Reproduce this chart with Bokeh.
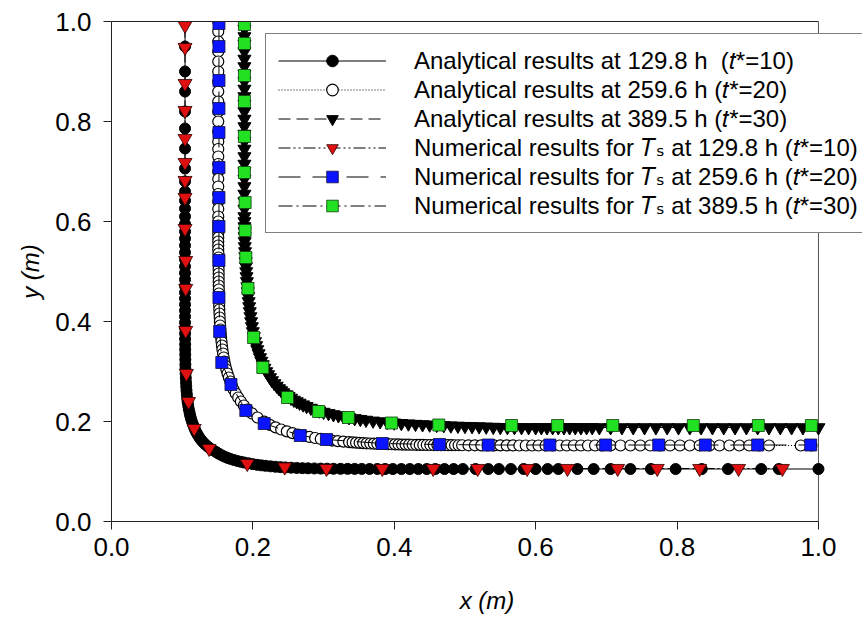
from bokeh.plotting import figure
from bokeh.models import (Range1d, FixedTicker, PrintfTickFormatter, Legend, LegendItem,
                          LinearAxis, Span)
from bokeh.embed import file_html
from bokeh.resources import INLINE

# ---------------- data ----------------
# Analytical results, t* = 10 (129.8 h)
a10_x = [0.104, 0.104, 0.104, 0.104, 0.104, 0.104, 0.104, 0.104, 0.104, 0.104,
         0.104, 0.104, 0.104, 0.104, 0.104, 0.104, 0.104, 0.104, 0.104, 0.104,
         0.104, 0.104, 0.104, 0.104, 0.104, 0.104, 0.104, 0.104, 0.104,
         0.1040, 0.1041, 0.1041, 0.1042, 0.1042, 0.1043, 0.1044, 0.1045, 0.1046, 0.1048,
         0.1051, 0.1054, 0.1057, 0.1061, 0.1066, 0.1071, 0.1077, 0.1085, 0.1093, 0.1104,
         0.1113, 0.1124, 0.1137, 0.1153, 0.1169, 0.1184, 0.1201, 0.1221, 0.1243, 0.1263,
         0.1287, 0.1313, 0.1344, 0.1370, 0.1397, 0.1425,
         0.146, 0.149, 0.152, 0.156, 0.160, 0.164, 0.168, 0.173, 0.178, 0.183,
         0.188, 0.194, 0.200, 0.206, 0.212, 0.218, 0.225, 0.232, 0.239, 0.246,
         0.254, 0.262, 0.270, 0.278, 0.287, 0.296, 0.305, 0.314, 0.324, 0.334,
         0.344, 0.354, 0.365, 0.376, 0.387,
         0.398, 0.410, 0.422, 0.434, 0.446, 0.458, 0.471, 0.484, 0.497,
         0.515, 0.533, 0.548, 0.565, 0.583, 0.600, 0.617, 0.632, 0.659, 0.682,
         0.706, 0.734, 0.763, 0.798, 0.835, 0.872, 0.919, 0.944, 1.000]
a10_y = [1.000, 0.950, 0.900, 0.860, 0.820, 0.786, 0.746, 0.706, 0.680, 0.660,
         0.642, 0.626, 0.610, 0.595, 0.580, 0.566, 0.552, 0.538, 0.524, 0.510,
         0.497, 0.484, 0.471, 0.458, 0.446, 0.434, 0.422, 0.410, 0.398,
         0.387, 0.376, 0.365, 0.354, 0.344, 0.334, 0.324, 0.314, 0.305, 0.296,
         0.287, 0.278, 0.270, 0.262, 0.254, 0.246, 0.239, 0.232, 0.225, 0.218,
         0.212, 0.206, 0.200, 0.194, 0.188, 0.183, 0.178, 0.173, 0.168, 0.164,
         0.160, 0.156, 0.152, 0.149, 0.146, 0.143,
         0.1407, 0.1380, 0.1354, 0.1323, 0.1297, 0.1273, 0.1253, 0.1231, 0.1211, 0.1194,
         0.1179, 0.1163, 0.1147, 0.1134, 0.1123, 0.1114, 0.1103, 0.1095, 0.1087, 0.1081,
         0.1076, 0.1071, 0.1067, 0.1064, 0.1061, 0.1058, 0.1056, 0.1055, 0.1054, 0.1053,
         0.1052, 0.1052, 0.1051, 0.1051, 0.1050,
         0.105, 0.105, 0.105, 0.105, 0.105, 0.105, 0.105, 0.105, 0.105,
         0.105, 0.105, 0.105, 0.105, 0.105, 0.105, 0.105, 0.105, 0.105, 0.105,
         0.105, 0.105, 0.105, 0.105, 0.105, 0.105, 0.105, 0.105, 0.105]

# Analytical results, t* = 20 (259.6 h)
a20_x = [0.151, 0.151, 0.151, 0.151, 0.151, 0.151, 0.151, 0.151, 0.151, 0.151,
         0.151, 0.151, 0.151, 0.151, 0.151, 0.151, 0.151, 0.151, 0.151, 0.151,
         0.151, 0.151, 0.151, 0.151, 0.151, 0.151, 0.151, 0.151, 0.151, 0.151,
         0.151,
         0.1513, 0.1514, 0.1514, 0.1515, 0.1515, 0.1516, 0.1516, 0.1516, 0.1517, 0.1518,
         0.1519, 0.1520, 0.1521, 0.1523, 0.1525, 0.1527, 0.1530, 0.1533, 0.1536, 0.1541,
         0.1546, 0.1550, 0.1556, 0.1562, 0.1569, 0.1578, 0.1587, 0.1597, 0.1609, 0.1625,
         0.1641, 0.1660, 0.1681, 0.1702, 0.1727, 0.1757, 0.1792, 0.1830, 0.1872, 0.1923,
         0.1988, 0.2065,
         0.216, 0.224, 0.232, 0.240, 0.248, 0.256, 0.264, 0.272, 0.280, 0.288,
         0.296, 0.304, 0.312, 0.320, 0.328, 0.336,
         0.341, 0.346, 0.351, 0.356, 0.361, 0.366, 0.371, 0.376, 0.381, 0.386,
         0.391, 0.396, 0.401, 0.406, 0.411, 0.416, 0.421, 0.426, 0.431, 0.436,
         0.441, 0.446, 0.451, 0.456, 0.461, 0.466, 0.471, 0.476, 0.481, 0.486,
         0.491, 0.496,
         0.505, 0.514, 0.523, 0.532, 0.541, 0.550, 0.559, 0.568, 0.577, 0.586,
         0.595, 0.604, 0.614, 0.624, 0.634, 0.644, 0.654, 0.664, 0.674, 0.684,
         0.694, 0.706, 0.720, 0.734, 0.748, 0.762, 0.776, 0.790, 0.804, 0.818,
         0.832, 0.846, 0.860, 0.874, 0.888, 0.902, 0.916, 0.930, 0.975, 0.990]
a20_y = [1.000, 0.980, 0.960, 0.940, 0.920, 0.900, 0.880, 0.860, 0.840, 0.820,
         0.800, 0.780, 0.760, 0.745, 0.730, 0.715, 0.700, 0.685, 0.670, 0.655,
         0.640, 0.625, 0.610, 0.600, 0.592, 0.584, 0.576, 0.568, 0.560, 0.552,
         0.544,
         0.536, 0.528, 0.520, 0.512, 0.504, 0.496, 0.488, 0.480, 0.472, 0.464,
         0.456, 0.448, 0.440, 0.432, 0.424, 0.416, 0.408, 0.400, 0.392, 0.384,
         0.376, 0.368, 0.360, 0.352, 0.344, 0.336, 0.328, 0.320, 0.312, 0.304,
         0.296, 0.288, 0.280, 0.272, 0.264, 0.256, 0.248, 0.240, 0.232, 0.224,
         0.216, 0.208,
         0.1998, 0.1933, 0.1882, 0.1840, 0.1802, 0.1767, 0.1737, 0.1712, 0.1691, 0.1670,
         0.1651, 0.1635, 0.1619, 0.1607, 0.1597, 0.1588,
         0.1582, 0.1577, 0.1572, 0.1568, 0.1564, 0.1560, 0.1557, 0.1555, 0.1552, 0.1550,
         0.1547, 0.1545, 0.1543, 0.1541, 0.1539, 0.1537, 0.1536, 0.1535, 0.1534, 0.1532,
         0.1531, 0.1530, 0.1530, 0.1529, 0.1528, 0.1528, 0.1527, 0.1526, 0.1526, 0.1525,
         0.1525, 0.1525,
         0.1524, 0.1524, 0.1523, 0.1523, 0.1522, 0.1522, 0.1521, 0.1521, 0.152, 0.152,
         0.152, 0.152, 0.152, 0.152, 0.152, 0.152, 0.152, 0.152, 0.152, 0.152,
         0.152, 0.152, 0.152, 0.152, 0.152, 0.152, 0.152, 0.152, 0.152, 0.152,
         0.152, 0.152, 0.152, 0.152, 0.152, 0.152, 0.152, 0.152, 0.152, 0.152]

# Analytical results, t* = 30 (389.5 h)
a30_x = [0.188, 0.188, 0.188, 0.188, 0.188, 0.188, 0.188, 0.188, 0.188, 0.188,
         0.188, 0.188, 0.188, 0.188, 0.188, 0.188, 0.188, 0.188, 0.188, 0.188,
         0.188, 0.188, 0.188, 0.188, 0.188, 0.188, 0.188,
         0.1880, 0.1881, 0.1882, 0.1883, 0.1884, 0.1885, 0.1889, 0.1893, 0.1898, 0.1902,
         0.1906, 0.1910, 0.1916, 0.1922, 0.1928, 0.1934, 0.1940, 0.1948, 0.1956, 0.1965,
         0.1975, 0.1986, 0.1999, 0.2013, 0.2030, 0.2046, 0.2062, 0.2081, 0.2101, 0.2120,
         0.2140, 0.2163, 0.2189, 0.2215, 0.2242, 0.2270, 0.2304, 0.2337, 0.2370, 0.2400,
         0.2430, 0.2470,
         0.2505,
         0.254, 0.258, 0.262, 0.266, 0.271, 0.276, 0.282, 0.288, 0.294, 0.300,
         0.307, 0.314, 0.321, 0.328, 0.336, 0.344, 0.352, 0.360, 0.370, 0.380,
         0.390, 0.400, 0.410, 0.420, 0.430, 0.440, 0.450, 0.460, 0.470, 0.480,
         0.490, 0.500, 0.510, 0.520, 0.530, 0.540, 0.550, 0.560, 0.570, 0.580,
         0.590, 0.600,
         0.608, 0.616, 0.624, 0.632, 0.640, 0.648, 0.656, 0.664, 0.672, 0.680,
         0.690, 0.706, 0.722, 0.738, 0.754, 0.770, 0.786, 0.802, 0.818, 0.834,
         0.850, 0.866, 0.882, 0.898, 0.914, 0.930, 0.946, 0.962, 0.978, 1.000]
a30_y = [1.000, 0.985, 0.970, 0.955, 0.940, 0.925, 0.910, 0.895, 0.880, 0.865,
         0.850, 0.835, 0.820, 0.805, 0.790, 0.775, 0.760, 0.745, 0.730, 0.715,
         0.700, 0.685, 0.670, 0.655, 0.640, 0.625, 0.610,
         0.600, 0.590, 0.580, 0.570, 0.560, 0.550, 0.540, 0.530, 0.520, 0.510,
         0.500, 0.490, 0.480, 0.470, 0.460, 0.450, 0.440, 0.430, 0.420, 0.410,
         0.400, 0.390, 0.380, 0.370, 0.360, 0.352, 0.344, 0.336, 0.328, 0.321,
         0.314, 0.307, 0.300, 0.294, 0.288, 0.282, 0.276, 0.271, 0.266, 0.262,
         0.258, 0.254,
         0.2505,
         0.2470, 0.2430, 0.2400, 0.2370, 0.2337, 0.2304, 0.2270, 0.2242, 0.2215, 0.2189,
         0.2163, 0.2140, 0.2120, 0.2101, 0.2081, 0.2062, 0.2046, 0.2030, 0.2013, 0.1999,
         0.1986, 0.1975, 0.1965, 0.1956, 0.1948, 0.1940, 0.1934, 0.1928, 0.1922, 0.1916,
         0.1910, 0.1906, 0.1902, 0.1898, 0.1893, 0.1889, 0.1885, 0.1884, 0.1883, 0.1882,
         0.1881, 0.1880,
         0.188, 0.188, 0.188, 0.188, 0.188, 0.188, 0.188, 0.188, 0.188, 0.188,
         0.188, 0.188, 0.188, 0.188, 0.188, 0.188, 0.188, 0.188, 0.188, 0.188,
         0.188, 0.188, 0.188, 0.188, 0.188, 0.188, 0.188, 0.188, 0.188, 0.188]

# Numerical results for T_S
n10_x = [0.104, 0.104, 0.104, 0.104, 0.104, 0.104, 0.104, 0.104, 0.104, 0.105,
         0.105, 0.105, 0.106, 0.109, 0.117, 0.138, 0.192, 0.245, 0.304, 0.383,
         0.455, 0.518, 0.588, 0.645, 0.716, 0.772, 0.832, 0.887, 0.949]
n10_y = [0.992, 0.948, 0.876, 0.822, 0.766, 0.718, 0.682, 0.648, 0.586, 0.522,
         0.466, 0.382, 0.296, 0.240, 0.186, 0.146, 0.116, 0.109, 0.106, 0.106,
         0.106, 0.106, 0.106, 0.106, 0.106, 0.106, 0.106, 0.106, 0.106]

n20_x = [0.152, 0.152, 0.152, 0.152, 0.152, 0.152, 0.152, 0.152, 0.152, 0.152,
         0.153, 0.156, 0.169, 0.190, 0.216, 0.267, 0.304, 0.383, 0.464, 0.533,
         0.620, 0.699, 0.774, 0.840, 0.914, 0.989]
n20_y = [0.996, 0.950, 0.882, 0.826, 0.778, 0.708, 0.648, 0.590, 0.522, 0.448,
         0.380, 0.318, 0.274, 0.222, 0.196, 0.172, 0.164, 0.156, 0.154, 0.153,
         0.153, 0.153, 0.153, 0.153, 0.153, 0.153]

n30_x = [0.188, 0.188, 0.188, 0.188, 0.188, 0.188, 0.189, 0.189, 0.190, 0.193,
         0.201, 0.214, 0.249, 0.293, 0.335, 0.396, 0.463, 0.566, 0.631, 0.709,
         0.823, 0.915, 0.990]
n30_y = [0.994, 0.956, 0.892, 0.840, 0.770, 0.698, 0.638, 0.582, 0.528, 0.466,
         0.368, 0.308, 0.248, 0.220, 0.208, 0.197, 0.193, 0.192, 0.192, 0.192,
         0.192, 0.192, 0.192]

axis_ticks = [0.0, 0.2, 0.4, 0.6, 0.8, 1.0]
axis_min, axis_max = 0.0, 1.0

labels = [
    "Analytical results at 129.8 h  (\U0001D461*=10)",
    "Analytical results at 259.6 h (\U0001D461*=20)",
    "Analytical results at 389.5 h (\U0001D461*=30)",
    "Numerical results for \U0001D447\u209B at 129.8 h (\U0001D461*=10)",
    "Numerical results for \U0001D447\u209B at 259.6 h (\U0001D461*=20)",
    "Numerical results for \U0001D447\u209B at 389.5 h (\U0001D461*=30)",
]

# ---------------- figure ----------------
# The frame runs a little past x = 1 so that the legend can overhang the axes box
# as in the reference; the visible box is drawn with bounded axes and a span.
p = figure(width=865, height=617, output_backend="svg", toolbar_location=None,
           x_range=Range1d(axis_min, 1.0623), y_range=Range1d(axis_min, axis_max),
           min_border_left=111, min_border_right=3,
           min_border_top=21, min_border_bottom=96)
p.xgrid.visible = False
p.ygrid.visible = False
p.outline_line_color = None
p.background_fill_color = "white"
p.border_fill_color = "white"

for ax in (p.xaxis[0], p.yaxis[0]):
    ax.ticker = FixedTicker(ticks=axis_ticks)
    ax.formatter = PrintfTickFormatter(format="%.1f")
    ax.bounds = (axis_min, axis_max)
    ax.major_tick_in = 0
    ax.major_tick_out = 8
    ax.minor_tick_in = 0
    ax.minor_tick_out = 0
    ax.axis_line_color = "#222222"
    ax.major_tick_line_color = "#222222"
    ax.major_label_text_font = "Liberation Sans"
    ax.major_label_text_font_size = "26px"
    ax.major_label_text_color = "black"
    ax.axis_label_text_font = "Liberation Sans"
    ax.axis_label_text_font_size = "24px"
    ax.axis_label_text_font_style = "italic"
    ax.axis_label_text_color = "black"

p.xaxis.axis_label = "x (m)"
p.yaxis.axis_label = "y (m)"
p.xaxis.major_label_standoff = 8
p.yaxis.major_label_standoff = 12
p.xaxis.axis_label_standoff = 28
p.yaxis.axis_label_standoff = 8

top_axis = LinearAxis(bounds=(axis_min, axis_max), ticker=FixedTicker(ticks=[]),
                      major_tick_out=0, major_tick_in=0, minor_tick_out=0, minor_tick_in=0,
                      major_label_text_font_size="0px", axis_line_color="#222222")
p.add_layout(top_axis, "above")
right_edge = Span(location=axis_max, dimension="height", line_color="#555555",
                  line_width=1, level="underlay")
p.add_layout(right_edge)

# analytical
l1 = p.line(a10_x, a10_y, line_color="black", line_width=1)
s1 = p.scatter(a10_x, a10_y, marker="circle", size=11, fill_color="black", line_color="black")
l2 = p.line(a20_x, a20_y, line_color="black", line_width=1, line_dash="1 2")
s2 = p.scatter(a20_x, a20_y, marker="circle", size=11, fill_color="white", line_color="black", line_width=1.2)
l3 = p.line(a30_x, a30_y, line_color="black", line_width=1, line_dash="12 6")
s3 = p.scatter(a30_x, a30_y, marker="inverted_triangle", size=13, fill_color="black", line_color="black")

# numerical
l4 = p.line(n10_x, n10_y, line_color="black", line_width=1, line_dash="12 3 2 3 2 3")
s4 = p.scatter(n10_x, n10_y, marker="inverted_triangle", size=14, fill_color="#e01010", line_color="#300000", line_width=0.8)
l5 = p.line(n20_x, n20_y, line_color="black", line_width=1, line_dash="22 12")
s5 = p.scatter(n20_x, n20_y, marker="square", size=12, fill_color="#0a14ff", line_color="#101040", line_width=0.8)
l6 = p.line(n30_x, n30_y, line_color="black", line_width=1, line_dash="14 4 2 4")
s6 = p.scatter(n30_x, n30_y, marker="square", size=12, fill_color="#22e022", line_color="#104010", line_width=0.8)

items = [
    LegendItem(label=labels[0], renderers=[l1, s1]),
    LegendItem(label=labels[1], renderers=[l2, s2]),
    LegendItem(label=labels[2], renderers=[l3, s3]),
    LegendItem(label=labels[3], renderers=[l4, s4]),
    LegendItem(label=labels[4], renderers=[l5, s5]),
    LegendItem(label=labels[5], renderers=[l6, s6]),
]
legend = Legend(items=items, location=(154, 288),
                label_text_font="'Liberation Sans', 'DejaVu Sans'", label_text_font_size="24px",
                label_text_color="black", label_text_line_height=1.0,
                glyph_width=108, glyph_height=29, label_height=29,
                spacing=0, padding=12, margin=0, label_standoff=28,
                border_line_color="black", border_line_width=1,
                background_fill_color="white", background_fill_alpha=1.0)
p.add_layout(legend)

open("out.html", "w").write(file_html(p, INLINE))
